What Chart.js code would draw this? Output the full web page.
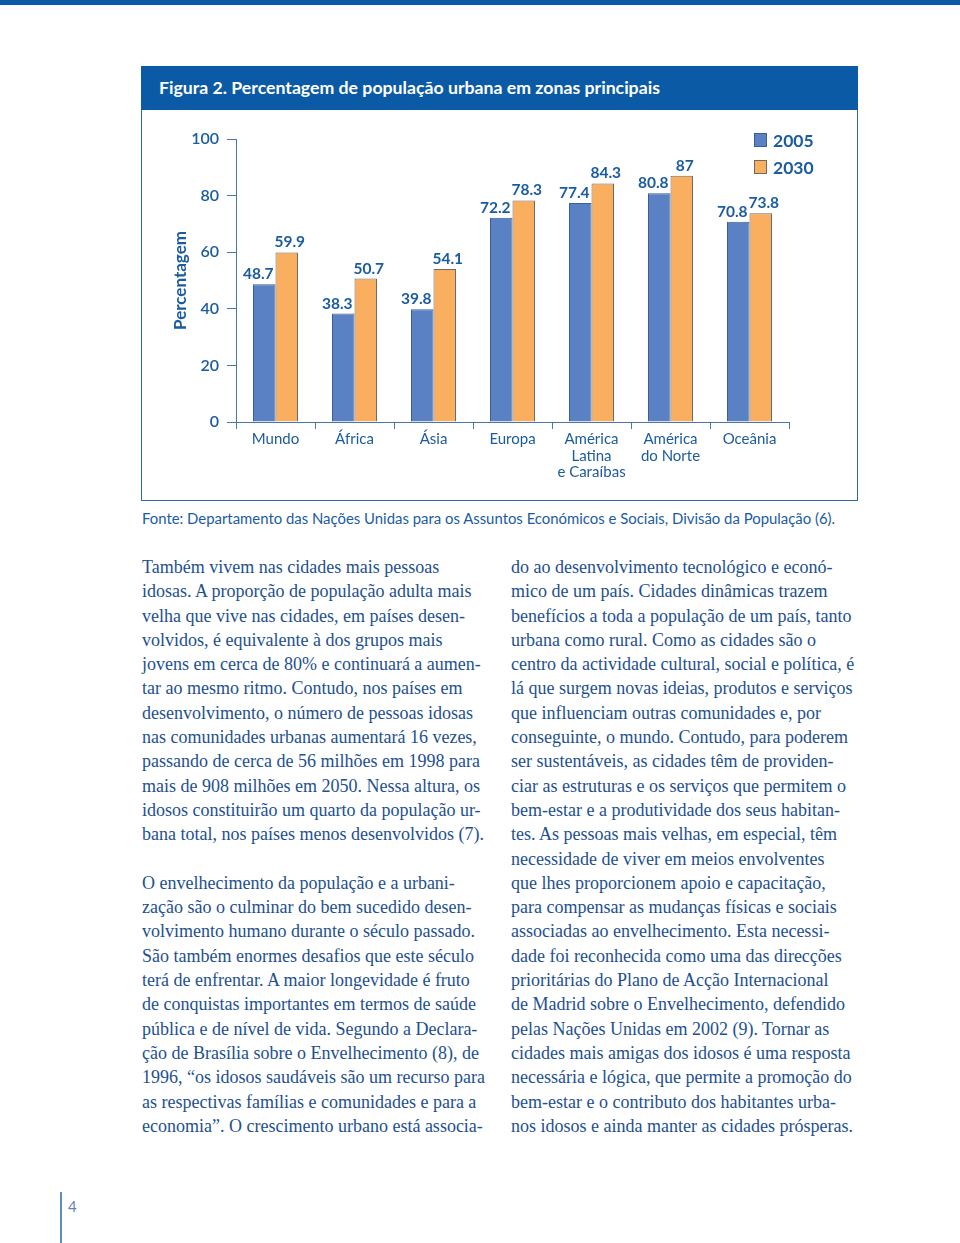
<!DOCTYPE html>
<html lang="pt">
<head>
<meta charset="utf-8">
<script src="https://cdn.jsdelivr.net/npm/chart.js@4.4.1/dist/chart.umd.min.js"></script>
<style>
  html, body { margin: 0; padding: 0; background: #fff; }
  body { width: 960px; height: 1243px; position: relative; overflow: hidden; }
  #topbar { position: absolute; left: 0; top: 0; width: 960px; height: 5px; background: #0b5aa6; }
  #figbox { position: absolute; left: 141px; top: 66px; width: 715px; height: 434px; border: 1px solid #2d68a8; border-top: none; }
  #fighead { position: absolute; left: 141px; top: 66px; width: 717px; height: 44px; background: #0b5aa6; color: #fff;
    font-family: Lato, "Open Sans", sans-serif; font-weight: 700; font-size: 17.7px; line-height: 44px; box-sizing: border-box; padding-left: 18px; white-space: nowrap; }
  #chartwrap { position: absolute; left: 142px; top: 111px; width: 715px; height: 389px; }
  #source { position: absolute; left: 142px; top: 509px; font-family: Lato, "Open Sans", sans-serif; font-size: 14.9px; color: #1b5b9f; white-space: nowrap; }
  .col { position: absolute; top: 555px; font-family: "Liberation Serif", "Times New Roman", serif; font-size: 18px; line-height: 24.3px; color: #1d5090; white-space: nowrap; }
  .col div { height: 24.3px; }
  #left { left: 142px; }
  #right { left: 511px; }
  #pgline { position: absolute; left: 60px; top: 1192px; width: 2px; height: 51px; background: #5d8cc2; }
  #pgnum { position: absolute; left: 68px; top: 1197px; font-family: Lato, sans-serif; font-size: 15px; color: #6c7fae; }
</style>
</head>
<body>
<div id="topbar"></div>
<div id="figbox"></div>
<div id="fighead">Figura 2. Percentagem de população urbana em zonas principais</div>
<div id="chartwrap"><canvas id="c" width="715" height="389"></canvas></div>
<div id="source">Fonte: Departamento das Nações Unidas para os Assuntos Económicos e Sociais, Divisão da População (6).</div>
<div class="col" id="left">
<div>Também vivem nas cidades mais pessoas</div>
<div>idosas. A proporção de população adulta mais</div>
<div>velha que vive nas cidades, em países desen-</div>
<div>volvidos, é equivalente à dos grupos mais</div>
<div>jovens em cerca de 80% e continuará a aumen-</div>
<div>tar ao mesmo ritmo. Contudo, nos países em</div>
<div>desenvolvimento, o número de pessoas idosas</div>
<div>nas comunidades urbanas aumentará 16 vezes,</div>
<div>passando de cerca de 56 milhões em 1998 para</div>
<div>mais de 908 milhões em 2050. Nessa altura, os</div>
<div>idosos constituirão um quarto da população ur-</div>
<div>bana total, nos países menos desenvolvidos (7).</div>
<div></div>
<div>O envelhecimento da população e a urbani-</div>
<div>zação são o culminar do bem sucedido desen-</div>
<div>volvimento humano durante o século passado.</div>
<div>São também enormes desafios que este século</div>
<div>terá de enfrentar. A maior longevidade é fruto</div>
<div>de conquistas importantes em termos de saúde</div>
<div>pública e de nível de vida. Segundo a Declara-</div>
<div>ção de Brasília sobre o Envelhecimento (8), de</div>
<div>1996, “os idosos saudáveis são um recurso para</div>
<div>as respectivas famílias e comunidades e para a</div>
<div>economia”. O crescimento urbano está associa-</div>
</div>
<div class="col" id="right">
<div>do ao desenvolvimento tecnológico e econó-</div>
<div>mico de um país. Cidades dinâmicas trazem</div>
<div>benefícios a toda a população de um país, tanto</div>
<div>urbana como rural. Como as cidades são o</div>
<div>centro da actividade cultural, social e política, é</div>
<div>lá que surgem novas ideias, produtos e serviços</div>
<div>que influenciam outras comunidades e, por</div>
<div>conseguinte, o mundo. Contudo, para poderem</div>
<div>ser sustentáveis, as cidades têm de providen-</div>
<div>ciar as estruturas e os serviços que permitem o</div>
<div>bem-estar e a produtividade dos seus habitan-</div>
<div>tes. As pessoas mais velhas, em especial, têm</div>
<div>necessidade de viver em meios envolventes</div>
<div>que lhes proporcionem apoio e capacitação,</div>
<div>para compensar as mudanças físicas e sociais</div>
<div>associadas ao envelhecimento. Esta necessi-</div>
<div>dade foi reconhecida como uma das direcções</div>
<div>prioritárias do Plano de Acção Internacional</div>
<div>de Madrid sobre o Envelhecimento, defendido</div>
<div>pelas Nações Unidas em 2002 (9). Tornar as</div>
<div>cidades mais amigas dos idosos é uma resposta</div>
<div>necessária e lógica, que permite a promoção do</div>
<div>bem-estar e o contributo dos habitantes urba-</div>
<div>nos idosos e ainda manter as cidades prósperas.</div>
</div>
<div id="pgline"></div>
<div id="pgnum">4</div>
<script>
const categories = [
  "Mundo", "África", "Ásia", "Europa",
  ["América", "Latina", "e Caraíbas"],
  ["América", "do Norte"],
  "Oceânia"
];
const seriesNames = ["2005", "2030"];
const values2005 = [48.7, 38.3, 39.8, 72.2, 77.4, 80.8, 70.8];
const values2030 = [59.9, 50.7, 54.1, 78.3, 84.3, 87, 73.8];
const yTicks = [0, 20, 40, 60, 80, 100];

const TEXT_BLUE = '#1b5b9f';
const FONT = 'Lato, "Open Sans", sans-serif';

const labelPlugin = {
  id: 'barLabels',
  afterDatasetsDraw(chart) {
    const ctx = chart.ctx;
    const shifts = [-6, 3];
    ctx.save();
    ctx.font = '700 15.5px ' + FONT;
    ctx.fillStyle = TEXT_BLUE;
    ctx.textAlign = 'center';
    ctx.textBaseline = 'middle';
    chart.data.datasets.forEach((ds, di) => {
      const meta = chart.getDatasetMeta(di);
      meta.data.forEach((bar, i) => {
        ctx.fillText(String(ds.data[i]), bar.x + shifts[di], bar.y - 10);
      });
    });
    ctx.restore();
  }
};

const legendPlugin = {
  id: 'boxLegend',
  afterDraw(chart) {
    const ctx = chart.ctx;
    ctx.save();
    ctx.font = '700 17.5px ' + FONT;
    ctx.textBaseline = 'middle';
    ctx.textAlign = 'left';
    chart.data.datasets.forEach((ds, di) => {
      const x = 612, y = 22 + di * 27;
      ctx.fillStyle = ds.backgroundColor;
      ctx.fillRect(x, y, 13, 14);
      ctx.strokeStyle = ds.borderColor;
      ctx.lineWidth = 1;
      ctx.strokeRect(x + 0.5, y + 0.5, 12, 13);
      ctx.fillStyle = TEXT_BLUE;
      ctx.fillText(ds.label, x + 19, y + 8);
    });
    ctx.restore();
  }
};

new Chart(document.getElementById('c'), {
  type: 'bar',
  data: {
    labels: categories,
    datasets: [
      { label: seriesNames[0], data: values2005, backgroundColor: '#5a81c3', borderColor: '#3d5f8f', borderWidth: 1 },
      { label: seriesNames[1], data: values2030, backgroundColor: '#f9ae60', borderColor: '#6f6a63', borderWidth: 1 }
    ]
  },
  options: {
    responsive: false,
    animation: false,
    events: [],
    layout: { padding: { top: 28, right: 68, left: 0, bottom: 0 } },
    datasets: { bar: { barPercentage: 1, categoryPercentage: 0.57 } },
    plugins: { legend: { display: false }, tooltip: { enabled: false } },
    scales: {
      x: {
        grid: { display: true, drawOnChartArea: false, offset: true, tickLength: 7, color: '#4a76a6', lineWidth: 1 },
        border: { display: true, color: '#4a76a6', width: 1 },
        ticks: { color: TEXT_BLUE, font: { family: FONT, size: 15, lineHeight: 1.1 }, padding: 2, maxRotation: 0, autoSkip: false },
        afterFit(scale) { scale.height = 78; }
      },
      y: {
        min: 0, max: 100,
        afterBuildTicks(scale) { scale.ticks = yTicks.map(v => ({ value: v })); },
        grid: { display: true, drawOnChartArea: false, tickLength: 9, color: '#4a76a6', lineWidth: 1 },
        border: { display: true, color: '#4a76a6', width: 1 },
        ticks: { color: TEXT_BLUE, font: { family: FONT, size: 16, weight: '600' }, padding: 8 },
        title: { display: true, text: 'Percentagem', color: TEXT_BLUE, font: { family: FONT, size: 17, weight: '700' }, padding: { top: 28, bottom: 0 } },
        afterFit(scale) { scale.width = 94; }
      }
    }
  },
  plugins: [labelPlugin, legendPlugin]
});
</script>
</body>
</html>
